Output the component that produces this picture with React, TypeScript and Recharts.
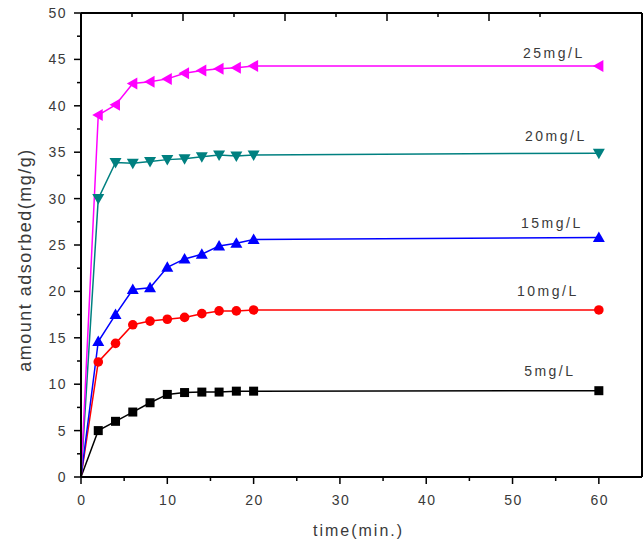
import React from "react";
import { LineChart, Line, XAxis, YAxis, LabelList } from "recharts";

// ---- data ----
const times = [0, 2, 4, 6, 8, 10, 12, 14, 16, 18, 20, 60];
const c5 = [0, 5.0, 6.0, 7.0, 8.0, 8.9, 9.1, 9.15, 9.15, 9.25, 9.25, 9.3];
const c10 = [0, 12.4, 14.4, 16.4, 16.8, 17.0, 17.2, 17.6, 17.9, 17.9, 18.0, 18.0];
const c15 = [0, 14.6, 17.5, 20.2, 20.4, 22.6, 23.5, 24.0, 24.9, 25.2, 25.6, 25.8];
const c20 = [0, 30.0, 33.9, 33.8, 34.0, 34.2, 34.3, 34.5, 34.7, 34.6, 34.7, 34.9];
const c25 = [0, 39.0, 40.1, 42.4, 42.6, 42.9, 43.5, 43.8, 44.0, 44.1, 44.3, 44.3];
const seriesNames = ["5mg/L", "10mg/L", "15mg/L", "20mg/L", "25mg/L"];

const xTicks = [0, 5, 10, 15, 20, 25, 30, 35, 40, 45, 50, 55, 60];
const yTicks = [0, 2.5, 5, 7.5, 10, 12.5, 15, 17.5, 20, 22.5, 25, 27.5, 30, 32.5, 35, 37.5, 40, 42.5, 45, 47.5, 50];
const rightTicks = [5, 10, 15, 20, 25, 30, 35, 40, 45];
const topTicks = [1, 2, 3, 4, 5, 6, 7, 8, 9];

const data = times.map((t, i) => ({
  t,
  s5: c5[i],
  s10: c10[i],
  s15: c15[i],
  s20: c20[i],
  s25: c25[i],
}));

const FONT = "'Liberation Sans', Arial, sans-serif";
const TEXT = "#3a3a3a";

type Shape = "square" | "circle" | "up" | "down" | "left";
const series: { key: string; name: string; color: string; shape: Shape; ldx: number; ldy: number }[] = [
  { key: "s5", name: seriesNames[0], color: "#000000", shape: "square", ldx: -49, ldy: -15 },
  { key: "s10", name: seriesNames[1], color: "#FF0000", shape: "circle", ldx: -51, ldy: -14 },
  { key: "s15", name: seriesNames[2], color: "#0000FF", shape: "up", ldx: -47, ldy: -10 },
  { key: "s20", name: seriesNames[3], color: "#008080", shape: "down", ldx: -43, ldy: -12 },
  { key: "s25", name: seriesNames[4], color: "#FF00FF", shape: "left", ldx: -45, ldy: -8 },
];

const makeDot = (shape: Shape, color: string) => (props: any) => {
  const { cx, cy, index } = props;
  const k = `d${index}`;
  if (index === 0 || cx == null || cy == null) return <g key={k} />;
  const s = 6;
  switch (shape) {
    case "square":
      return <rect key={k} x={cx - 4.5} y={cy - 4.5} width={9} height={9} fill={color} />;
    case "circle":
      return <circle key={k} cx={cx} cy={cy} r={4.8} fill={color} />;
    case "up":
      return <polygon key={k} points={`${cx},${cy - s} ${cx - s},${cy + s * 0.75} ${cx + s},${cy + s * 0.75}`} fill={color} />;
    case "down":
      return <polygon key={k} points={`${cx},${cy + s} ${cx - s},${cy - s * 0.75} ${cx + s},${cy - s * 0.75}`} fill={color} />;
    case "left":
    default:
      return <polygon key={k} points={`${cx - s},${cy} ${cx + s * 0.75},${cy - s} ${cx + s * 0.75},${cy + s}`} fill={color} />;
  }
};

const makeLabel = (name: string, dx: number, dy: number, last: number) => (props: any) => {
  const { x, y, index } = props;
  if (index !== last) return null;
  return (
    <text x={x + dx} y={y + dy} textAnchor="middle" fontSize={14} letterSpacing={2.5} fill={TEXT} fontFamily={FONT}>
      {name}
    </text>
  );
};

const LeftTick = (props: any) => {
  const { x, y, payload } = props;
  const major = payload.value % 5 === 0;
  return (
    <g>
      <line x1={x} x2={x - (major ? 7 : 4)} y1={y} y2={y} stroke="#000" strokeWidth={1.5} />
      {major && (
        <text x={x - 14} y={y + 5} textAnchor="end" fontSize={14} letterSpacing={1.5} fill={TEXT} fontFamily={FONT}>
          {payload.value}
        </text>
      )}
    </g>
  );
};

const BottomTick = (props: any) => {
  const { x, y, payload } = props;
  const major = payload.value % 10 === 0;
  return (
    <g>
      <line x1={x} x2={x} y1={y} y2={y + (major ? 7 : 4)} stroke="#000" strokeWidth={1.5} />
      {major && (
        <text x={x + 1} y={y + 28} textAnchor="middle" fontSize={14} letterSpacing={1.5} fill={TEXT} fontFamily={FONT}>
          {payload.value}
        </text>
      )}
    </g>
  );
};

const TopTick = (props: any) => {
  const { x, y, payload } = props;
  const major = payload.value % 2 === 0;
  return <line x1={x} x2={x} y1={y} y2={y + (major ? 8 : 4)} stroke="#000" strokeWidth={1.5} />;
};

const RightTick = (props: any) => {
  const { x, y, payload } = props;
  const major = payload.value % 10 === 0;
  return <line x1={x} x2={x - (major ? 10 : 5)} y1={y} y2={y} stroke="#000" strokeWidth={1.5} />;
};

const YLabel = (props: any) => {
  const vb = props.viewBox || { x: 0, y: 13, width: 81, height: 464 };
  const cx = vb.x + 31;
  const cy = vb.y + vb.height / 2 + 15;
  return (
    <text
      x={cx}
      y={cy}
      transform={`rotate(-90, ${cx}, ${cy})`}
      textAnchor="middle"
      fontSize={18}
      letterSpacing={1.5}
      fill={TEXT}
      fontFamily={FONT}
    >
      amount adsorbed(mg/g)
    </text>
  );
};

const XLabel = (props: any) => {
  const vb = props.viewBox || { x: 81, y: 477, width: 560, height: 68 };
  return (
    <text x={vb.x + vb.width / 2 - 3} y={vb.y + 59} textAnchor="middle" fontSize={16} letterSpacing={2} fill={TEXT} fontFamily={FONT}>
      time(min.)
    </text>
  );
};

export default function App() {
  const last = times.length - 1;
  return (
    <div style={{ position: "absolute", left: 0, top: 0, width: 643, height: 545, background: "#fff" }}>
      <LineChart width={643} height={545} data={data} margin={{ top: 12, right: 0, bottom: 0, left: 0 }}>
        <XAxis
          xAxisId="b"
          dataKey="t"
          type="number"
          domain={[0, 65]}
          ticks={xTicks}
          interval={0}
          height={68}
          tickSize={0}
          tickMargin={0}
          tickLine={false}
          tick={<BottomTick />}
          axisLine={{ stroke: "#000", strokeWidth: 2 }}
          label={<XLabel />}
        />
        <XAxis
          xAxisId="top"
          orientation="top"
          type="number"
          domain={[0, 10]}
          ticks={topTicks}
          interval={0}
          height={1}
          tickSize={0}
          tickMargin={0}
          tickLine={false}
          tick={<TopTick />}
          axisLine={{ stroke: "#000", strokeWidth: 2 }}
        />
        <YAxis
          yAxisId="l"
          type="number"
          domain={[0, 50]}
          ticks={yTicks}
          interval={0}
          width={81}
          tickSize={0}
          tickMargin={0}
          tickLine={false}
          tick={<LeftTick />}
          axisLine={{ stroke: "#000", strokeWidth: 2 }}
          label={<YLabel />}
        />
        <YAxis
          yAxisId="r"
          orientation="right"
          type="number"
          domain={[0, 50]}
          ticks={rightTicks}
          interval={0}
          width={1}
          tickSize={0}
          tickMargin={0}
          tickLine={false}
          tick={<RightTick />}
          axisLine={{ stroke: "#000", strokeWidth: 2 }}
        />
        {series.map((s) => (
          <Line
            key={s.key}
            xAxisId="b"
            yAxisId="l"
            type="linear"
            dataKey={s.key}
            stroke={s.color}
            strokeWidth={1.5}
            dot={makeDot(s.shape, s.color)}
            activeDot={false}
            isAnimationActive={false}
          >
            <LabelList dataKey={s.key} content={makeLabel(s.name, s.ldx, s.ldy, last)} />
          </Line>
        ))}
      </LineChart>
    </div>
  );
}
